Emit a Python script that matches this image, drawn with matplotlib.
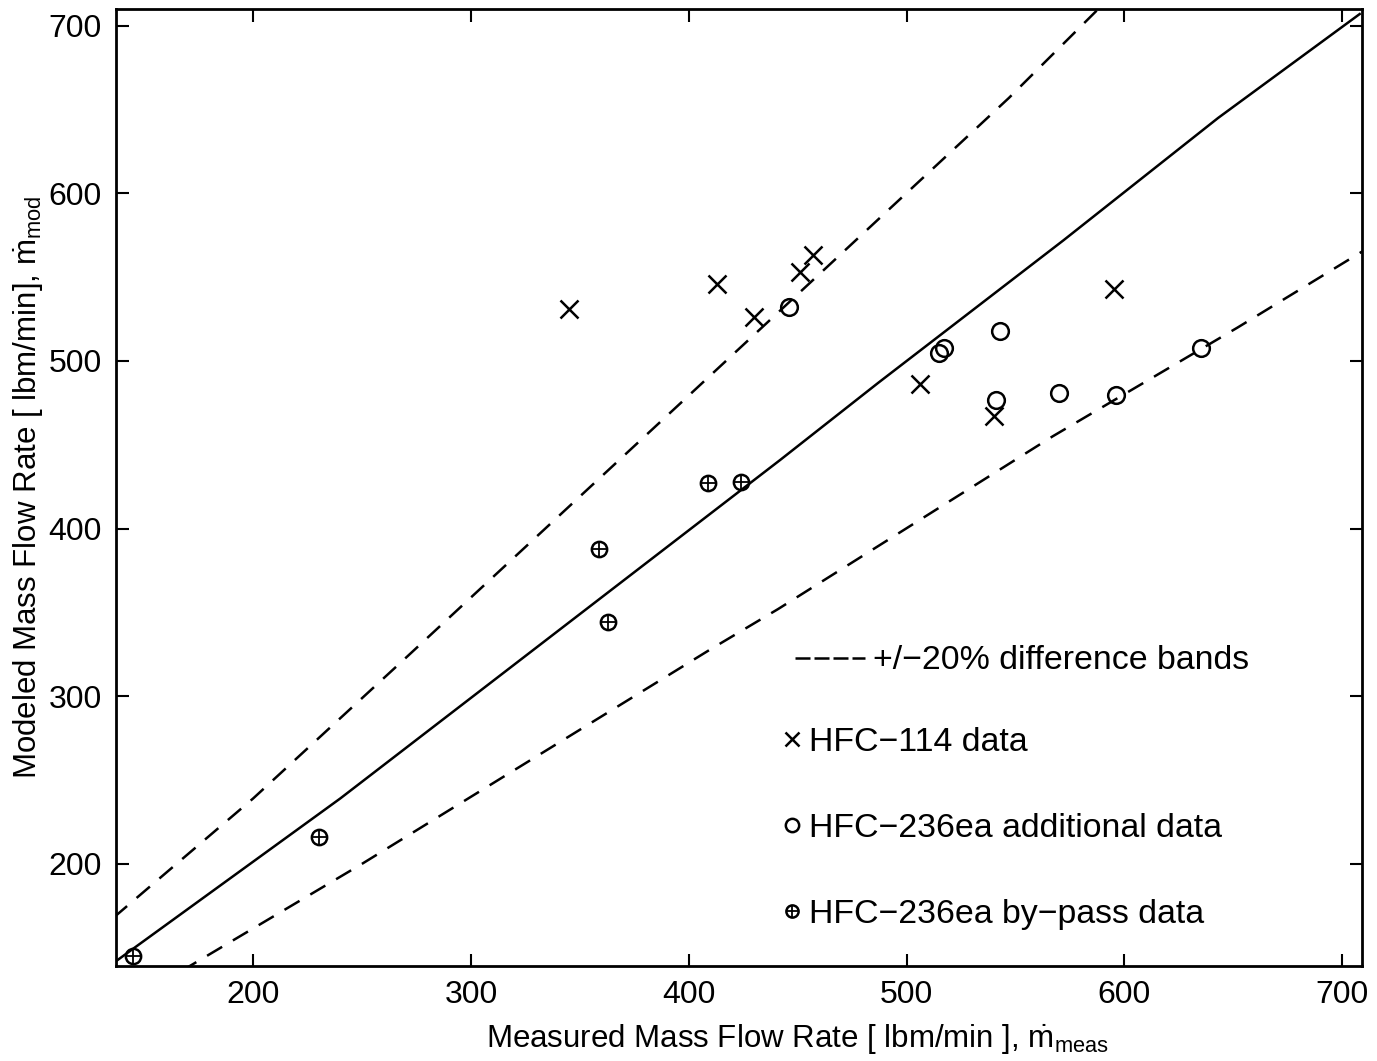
import matplotlib
matplotlib.use("Agg")
from matplotlib import pyplot as plt
from matplotlib.lines import Line2D

plt.rcParams['font.family'] = ['Liberation Sans', 'DejaVu Sans']
plt.rcParams['mathtext.fontset'] = 'custom'
plt.rcParams['mathtext.rm'] = 'Liberation Sans'
plt.rcParams['mathtext.it'] = 'Liberation Sans'

# HFC-114 data (measured, modeled)
hfc114_meas = [345, 413, 430, 451, 457, 506, 540, 595]
hfc114_mod = [531, 546, 526, 553, 563, 486, 467, 543]

# HFC-236ea additional data
add_meas = [446, 515, 517, 543, 541, 570, 596, 635]
add_mod = [532, 505, 508, 518, 477, 481, 480, 508]

# HFC-236ea by-pass data
byp_meas = [145, 230, 359, 363, 409, 424]
byp_mod = [145, 216, 388, 344, 427, 428]

# perfect agreement line and +/-20% bands
line_x = [135, 240, 343, 442, 487, 572, 643, 708]
line_y = [140, 239, 342, 441, 487, 572, 645, 707]
upper_x = [136, 200, 271, 398, 547, 588]
upper_y = [168, 239, 324, 477, 657, 710]
lower_x = [167, 250, 410, 441, 567, 652, 710]
lower_y = [136, 200, 328, 352, 455, 520, 566]

fig = plt.figure(figsize=(13.77, 10.61), dpi=100)
ax = fig.add_axes([0.0842, 0.0895, 0.9048, 0.902])

ax.plot(line_x, line_y, color='black', lw=1.8)
ax.plot(upper_x, upper_y, color='black', lw=1.8, dashes=(7, 5))
ax.plot(lower_x, lower_y, color='black', lw=1.8, dashes=(7, 5))

h1, = ax.plot(hfc114_meas, hfc114_mod, ls='none', marker='x', ms=13,
              mew=1.8, color='black')
h2, = ax.plot(add_meas, add_mod, ls='none', marker='o', ms=12,
              mew=1.8, mfc='none', color='black')
h3a, = ax.plot(byp_meas, byp_mod, ls='none', marker='o', ms=11,
               mew=1.8, mfc='none', color='black')
h3b, = ax.plot(byp_meas, byp_mod, ls='none', marker='+', ms=10,
               mew=1.3, color='black')

ax.set_xlim(137, 709)
ax.set_ylim(139, 710)
ax.set_xticks([200, 300, 400, 500, 600, 700])
ax.set_yticks([200, 300, 400, 500, 600, 700])
ax.tick_params(direction='in', length=9, width=1.5, labelsize=23,
               top=True, right=True, pad=10)
for s in ax.spines.values():
    s.set_linewidth(2)

ax.set_xlabel(r'Measured Mass Flow Rate [ lbm/min ], $\dot{\mathrm{m}}_{\mathrm{meas}}$',
              fontsize=22.5, labelpad=9, x=0.547)
ax.set_ylabel(r'Modeled Mass Flow Rate [ lbm/min], $\dot{\mathrm{m}}_{\mathrm{mod}}$',
              fontsize=22.5, labelpad=3)

# legend proxy with shorter dashes, as in the original key
band_key = Line2D([], [], color='black', lw=1.8, dashes=(6, 1.6))
leg1 = ax.legend([band_key], ['+/\u221220% difference bands'], loc='upper left',
                 bbox_to_anchor=(0.545, 0.335), frameon=False, fontsize=24.4,
                 handlelength=2.06, handletextpad=0.24, borderpad=0,
                 borderaxespad=0)
ax.add_artist(leg1)
ax.legend([h1, h2, (h3a, h3b)],
          ['HFC\u2212114 data', 'HFC\u2212236ea additional data',
           'HFC\u2212236ea by\u2212pass data'],
          loc='upper left', bbox_to_anchor=(0.536, 0.25), frameon=False,
          fontsize=24.4, handlelength=0.5, handletextpad=0.25,
          labelspacing=1.62, borderpad=0, borderaxespad=0, markerscale=0.8)

fig.savefig('out.png', dpi=100)
